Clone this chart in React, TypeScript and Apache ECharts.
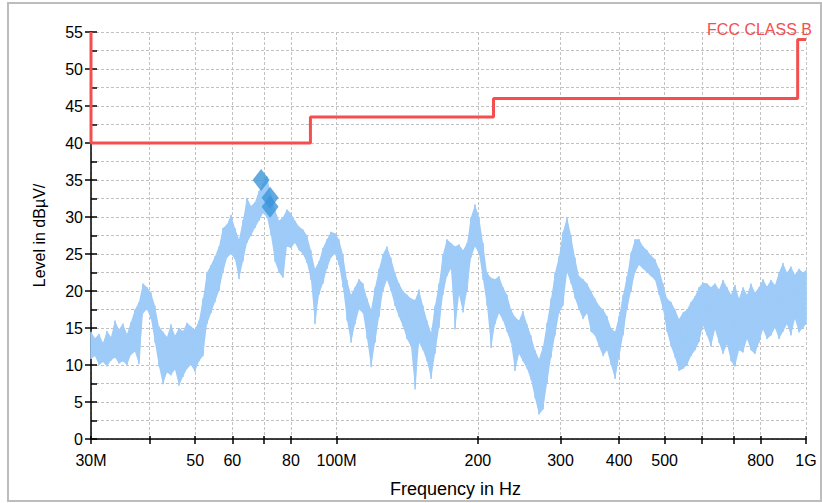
import React, { useEffect, useRef } from "react";
import * as echarts from "echarts";

// Spectrum sweep: frequency (MHz) with the upper and lower envelope of the trace (dBµV)
const freqMHz = [
  30.0, 30.59, 31.2, 31.82, 32.45, 33.09, 33.75, 34.41, 35.09, 35.79,
  36.5, 37.22, 37.96, 38.71, 39.48, 40.26, 41.06, 41.87, 42.7, 43.55,
  44.41, 45.29, 46.19, 47.1, 48.04, 48.99, 49.96, 50.95, 51.96, 52.99,
  54.04, 55.11, 56.2, 57.31, 58.45, 59.61, 60.79, 61.99, 63.22, 64.47,
  65.75, 67.05, 68.38, 69.73, 71.11, 72.52, 73.96, 75.42, 76.92, 78.44,
  79.99, 81.58, 83.19, 84.84, 86.52, 88.23, 89.98, 91.76, 93.58, 95.43,
  97.32, 99.25, 101.2, 103.2, 105.3, 107.4, 109.5, 111.7, 113.9, 116.2,
  118.5, 120.8, 123.2, 125.6, 128.1, 130.6, 133.2, 135.9, 138.6, 141.3,
  144.1, 147.0, 149.9, 152.9, 155.9, 159.0, 162.1, 165.3, 168.6, 171.9,
  175.3, 178.8, 182.4, 186.0, 189.7, 193.4, 197.3, 201.2, 205.2, 209.2,
  213.4, 217.6, 221.9, 226.3, 230.8, 235.4, 240.0, 244.8, 249.6, 254.6,
  259.6, 264.8, 270.0, 275.4, 280.8, 286.4, 292.1, 297.9, 303.7, 309.8,
  315.9, 322.2, 328.5, 335.0, 341.7, 348.4, 355.3, 362.4, 369.6, 376.9,
  384.4, 392.0, 399.7, 407.7, 415.7, 424.0, 432.4, 440.9, 449.7, 458.6,
  467.7, 476.9, 486.4, 496.0, 505.8, 515.9, 526.1, 536.5, 547.1, 558.0,
  569.0, 580.3, 591.8, 603.5, 615.5, 627.6, 640.1, 652.7, 665.7, 678.8,
  692.3, 706.0, 720.0, 734.2, 748.8, 763.6, 778.7, 794.1, 809.8, 825.9,
  842.2, 858.9, 875.9, 893.2, 910.9, 928.9, 947.3, 966.1, 985.2, 1000,
];
const levelHigh = [
  14.5, 13.6, 14.2, 13.0, 14.6, 13.8, 16.0, 14.8, 15.6, 14.2,
  15.8, 17.5, 18.5, 21.0, 20.5, 19.8, 18.0, 15.2, 14.5, 13.8,
  15.5, 14.0, 15.0, 14.6, 15.7, 15.2, 14.8, 16.0, 19.0, 22.5,
  23.5, 24.7, 26.0, 28.5, 29.0, 30.3, 28.5, 27.0, 29.6, 32.6,
  31.5, 32.0, 33.5, 34.5, 35.5, 33.0, 31.0, 29.5, 30.0, 31.0,
  30.5, 29.5, 28.7, 28.3, 27.5, 25.5, 23.0, 24.0, 25.8, 27.0,
  28.0, 27.8, 27.0, 25.0, 21.5, 19.5, 20.5, 21.6, 21.0, 19.0,
  17.5, 20.5, 23.0, 25.0, 26.0, 24.5, 22.5, 21.0, 20.0, 19.5,
  19.0, 18.8, 20.2, 18.0, 16.0, 14.4, 18.0, 21.0, 25.0, 27.0,
  26.5, 26.0, 26.3, 25.5, 26.5, 30.0, 31.7, 30.0, 26.5, 22.5,
  21.8, 21.6, 22.0, 20.5, 19.5, 17.5, 16.5, 16.0, 17.3, 15.5,
  14.0, 12.0, 10.8, 12.5, 15.7, 19.0, 22.5, 24.7, 28.0, 30.0,
  27.5, 24.5, 22.0, 21.6, 21.0, 20.0, 19.0, 18.0, 17.5, 16.6,
  15.0, 14.5, 16.6, 19.5, 22.0, 25.2, 27.0, 27.0, 26.0, 25.5,
  24.8, 24.3, 23.0, 21.0, 19.0, 18.5, 17.5, 16.2, 17.1, 17.5,
  18.5, 19.3, 20.5, 21.1, 21.0, 20.5, 21.0, 20.2, 21.5, 20.5,
  19.5, 20.8, 19.0, 20.5, 19.5, 21.0, 19.8, 20.5, 21.6, 20.6,
  21.5, 20.8, 22.5, 23.8, 22.5, 23.3, 22.2, 23.0, 22.5, 22.8,
];
const levelLow = [
  10.8, 11.2, 10.0, 10.4, 9.8, 10.6, 11.0, 10.2, 10.5, 10.0,
  11.4, 11.8, 10.1, 17.0, 17.5, 16.2, 13.0, 9.8, 7.4, 9.0,
  8.6, 9.4, 7.2, 8.4, 9.5, 10.0, 9.1, 10.5, 11.2, 15.5,
  17.0, 18.5, 20.0, 22.5, 24.5, 25.0, 24.3, 21.6, 24.0, 26.5,
  27.5, 28.5, 29.5, 30.5, 30.0, 27.5, 24.0, 22.5, 21.8, 26.0,
  25.8, 26.5, 25.5, 25.0, 23.8, 21.5, 15.5, 19.5, 21.0, 23.0,
  24.5, 25.0, 23.5, 20.5, 16.0, 13.0, 15.5, 17.5, 17.0, 13.5,
  9.7, 13.0, 16.5, 20.0, 21.5, 20.0, 18.0, 16.5, 15.2, 13.5,
  12.5, 6.7, 13.0, 12.0, 10.5, 8.1, 11.5, 15.0, 19.5, 22.0,
  23.0, 14.8, 19.5, 17.1, 20.0, 24.5, 26.0, 25.0, 21.5, 18.0,
  12.3, 15.5, 17.0, 16.0, 14.5, 13.0, 9.2, 11.5, 10.5, 9.5,
  8.0, 5.5, 3.3, 4.0, 7.5, 11.0, 14.0, 17.0, 18.0, 22.5,
  21.0, 19.0, 17.5, 16.2, 17.0, 14.5, 14.0, 12.5, 11.2, 12.0,
  10.0, 8.1, 11.0, 14.0, 17.5, 20.0, 22.5, 23.5, 23.0, 22.5,
  22.0, 21.5, 19.5, 17.5, 14.5, 12.5, 11.0, 9.2, 9.5, 10.0,
  11.2, 12.0, 13.1, 15.3, 14.0, 12.5, 14.8, 13.0, 11.5, 12.8,
  10.5, 9.8, 12.0, 11.7, 13.5, 12.0, 11.5, 13.0, 14.8, 13.5,
  14.0, 15.0, 13.5, 14.5, 15.5, 14.0, 16.2, 14.4, 15.0, 15.5,
];

// FCC Class B limit (MHz, dBµV)
const limitFreq = [30, 30, 88, 88, 216, 216, 960, 960, 1000];
const limitLevel = [55, 40, 40, 43.5, 43.5, 46, 46, 54, 54];

// Peak markers
const peakFreq = [69.1, 72.2, 72.2];
const peakLevel = [35.0, 32.6, 31.4];

// Axis ticks
const tickFreq = [30, 40, 50, 60, 70, 80, 100, 200, 300, 400, 500, 600, 700, 800, 1000];
const labelFreq = [30, 50, 60, 80, 100, 200, 300, 400, 500, 800, 1000];
const labelText = ["30M", "50", "60", "80", "100M", "200", "300", "400", "500", "800", "1G"];

const lg = (f: number) => Math.log10(f);
const X_MIN = lg(30);
const X_MAX = lg(1000);
const FONT = '"Liberation Sans", Arial, Helvetica, sans-serif';
const TRACE = "#9ecbf8";

export default function App() {
  const ref = useRef<HTMLDivElement>(null);
  useEffect(() => {
    if (!ref.current) return;
    const chart = echarts.init(ref.current, null, { renderer: "svg" });

    const trace: number[][] = [];
    freqMHz.forEach((f, i) => {
      trace.push([lg(f), levelHigh[i]]);
      trace.push([lg(f), levelLow[i]]);
    });
    const limit = limitFreq.map((f, i) => [lg(f), limitLevel[i]]);
    const peaks = peakFreq.map((f, i) => [lg(f), peakLevel[i]]);

    const labelFor = (v: number) => {
      const f = Math.round(Math.pow(10, v));
      const idx = labelFreq.indexOf(f);
      return idx >= 0 ? labelText[idx] : "";
    };

    const gridLine = { show: true, lineStyle: { color: "#c2c2c2", type: [3, 2], width: 1 } };

    chart.setOption({
      animation: false,
      backgroundColor: "#ffffff",
      textStyle: { fontFamily: FONT },
      grid: { left: 91, right: 16, top: 32, bottom: 63 },
      xAxis: [
        {
          type: "value",
          min: X_MIN,
          max: X_MAX,
          position: "bottom",
          axisLine: { show: true, lineStyle: { color: "#000", width: 1.5 } },
          axisTick: {
            show: true,
            inside: false,
            length: 5,
            customValues: tickFreq.map(lg),
            lineStyle: { color: "#000", width: 1.5 },
          },
          axisLabel: {
            show: true,
            customValues: labelFreq.map(lg),
            formatter: labelFor,
            color: "#000",
            fontSize: 16,
            fontFamily: FONT,
            margin: 13,
          },
          splitLine: { show: false },
          name: "Frequency in Hz",
          nameLocation: "middle",
          nameGap: 41,
          nameTextStyle: { fontSize: 18, color: "#000", fontFamily: FONT, padding: [0, 0, 0, 14] },
        },
        {
          type: "value",
          min: X_MIN,
          max: X_MAX,
          position: "bottom",
          axisLine: { show: false },
          axisTick: {
            show: true,
            inside: true,
            length: 3,
            customValues: tickFreq.map(lg),
            lineStyle: { color: "#000", width: 1.5 },
          },
          axisLabel: { show: false },
          splitLine: gridLine,
        },
      ],
      yAxis: [
        {
          type: "value",
          min: 0,
          max: 55,
          interval: 5,
          position: "left",
          axisLine: { show: true, lineStyle: { color: "#000", width: 1.5 } },
          axisTick: { show: true, inside: false, length: 6, lineStyle: { color: "#000", width: 1.5 } },
          axisLabel: { color: "#000", fontSize: 16, fontFamily: FONT, margin: 8 },
          splitLine: { show: false },
          name: "Level in dBµV/",
          nameLocation: "middle",
          nameGap: 44,
          nameRotate: 90,
          nameTextStyle: { fontSize: 16, color: "#000", fontFamily: FONT },
        },
        {
          type: "value",
          min: 0,
          max: 55,
          interval: 2.5,
          position: "left",
          axisLine: { show: false },
          axisTick: { show: true, inside: true, length: 6, lineStyle: { color: "#000", width: 1.5 } },
          axisLabel: { show: false },
          splitLine: gridLine,
        },
      ],
      series: [
        {
          type: "custom",
          name: "band",
          silent: true,
          clip: true,
          data: [[0]],
          z: 1,
          renderItem: (_params: any, api: any) => {
            const upper = freqMHz.map((f, i) => api.coord([lg(f), levelHigh[i]]));
            const lower = freqMHz.map((f, i) => api.coord([lg(f), levelLow[i]])).reverse();
            return {
              type: "polygon",
              shape: { points: upper.concat(lower) },
              style: { fill: TRACE },
            };
          },
        },
        {
          type: "line",
          name: "Trace",
          data: trace,
          showSymbol: false,
          symbol: "none",
          lineStyle: { color: TRACE, width: 1.5 },
          z: 2,
        },
        {
          type: "line",
          name: "FCC CLASS B",
          data: limit,
          showSymbol: false,
          symbol: "none",
          lineStyle: { color: "#f54e4e", width: 3 },
          z: 3,
        },
        {
          type: "scatter",
          name: "Peaks",
          data: peaks,
          symbol: "diamond",
          symbolSize: [17, 22],
          itemStyle: { color: "#3b96db" },
          z: 4,
        },
      ],
      graphic: [
        {
          type: "rect",
          silent: true,
          z: -10,
          shape: { x: 8, y: 3, width: 813, height: 498 },
          style: { fill: "none", stroke: "#bdbdbd", lineWidth: 2 },
        },
        {
          type: "text",
          right: 10,
          top: 21,
          z: 10,
          style: { text: "FCC CLASS B", fill: "#f54e4e", font: `16px ${FONT}` },
        },
      ],
    });
    return () => chart.dispose();
  }, []);

  return (
    <div
      ref={ref}
      style={{ position: "fixed", left: 0, top: 0, width: 822, height: 503, background: "#fff" }}
    />
  );
}
